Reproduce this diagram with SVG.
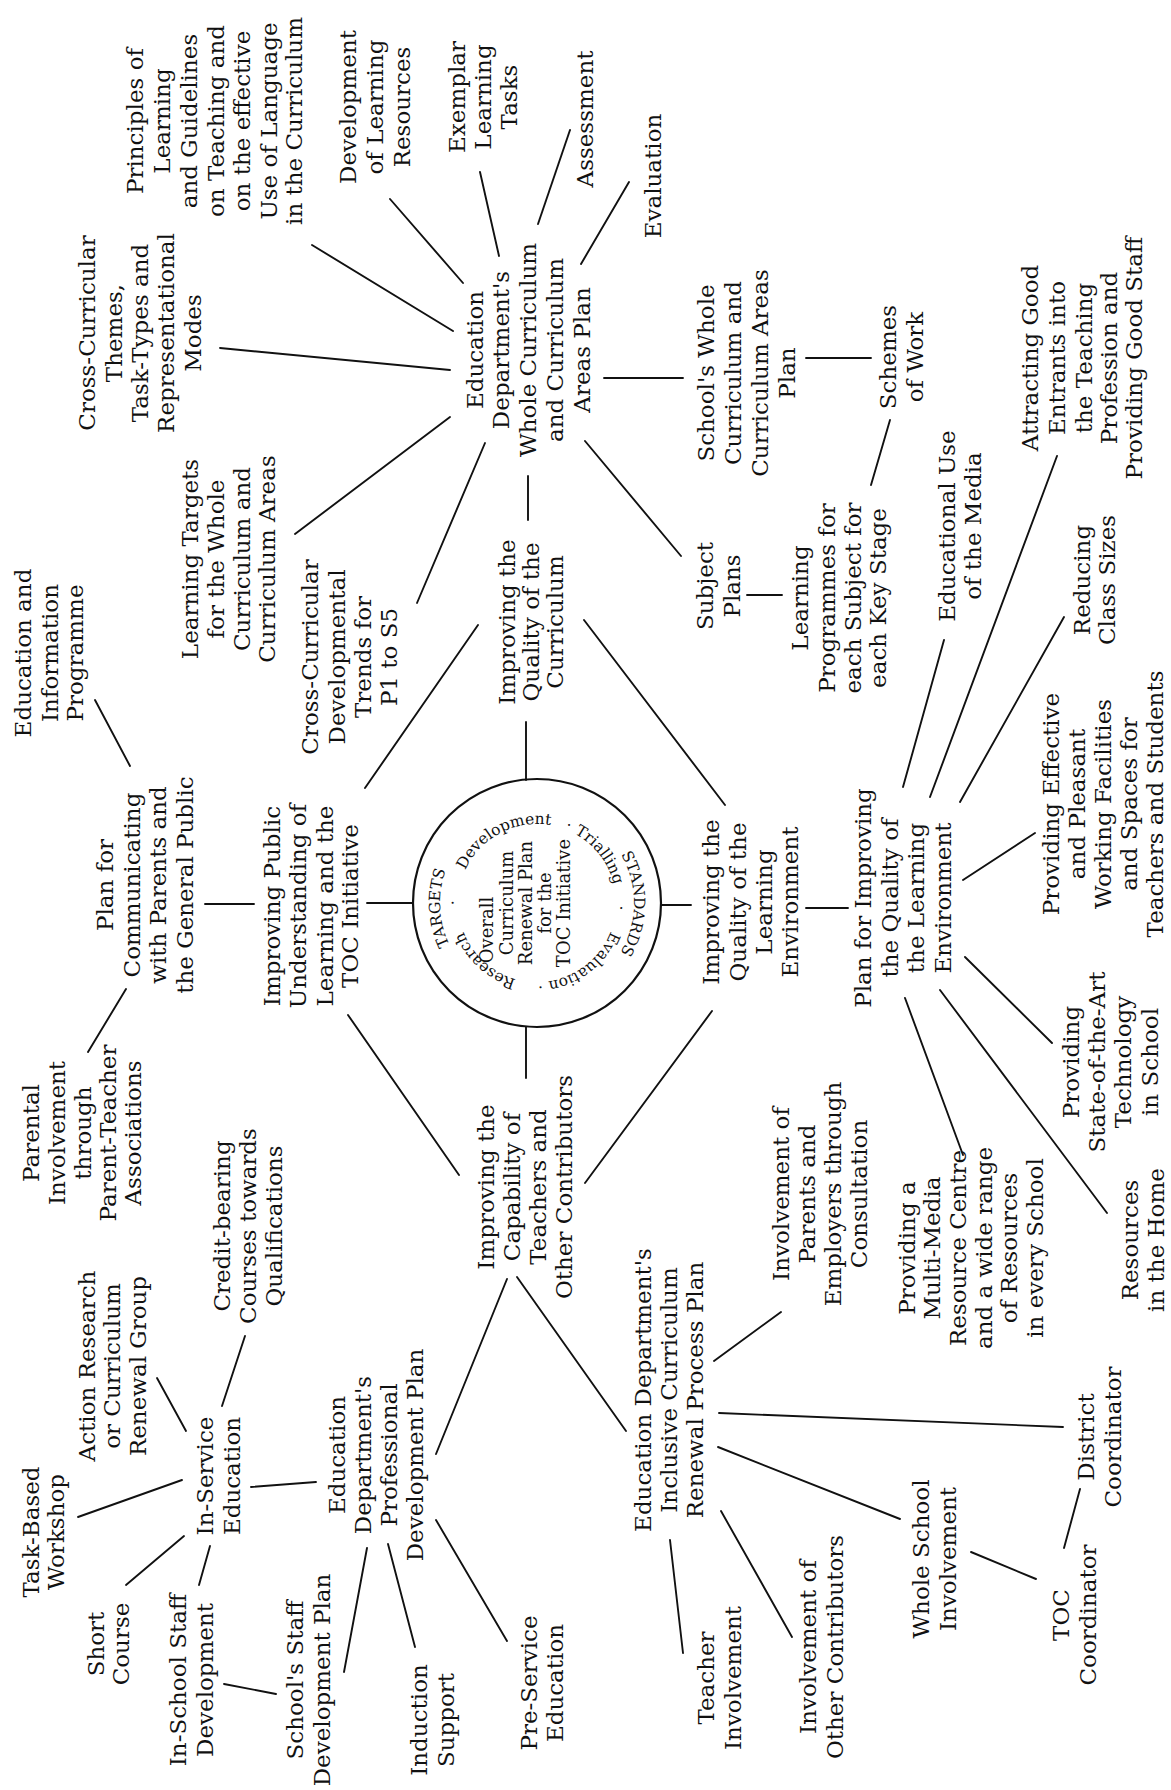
<svg xmlns="http://www.w3.org/2000/svg" width="1171" height="1790" viewBox="0 0 1171 1790">
<defs>
<style>
text { font-family: "DejaVu Serif", "Liberation Serif", serif; font-size: 23px; text-anchor: middle; fill: #111; }
.ring { font-size: 15.5px; }
.inner { font-size: 18px; }
#connectors line { stroke: #111; stroke-width: 1.9; stroke-linecap: round; }
.hub { fill: none; stroke: #111; stroke-width: 2.2; }
</style>
<path id="ringIn" d="M537,982 A79,79 0 0,1 537,824 A79,79 0 0,1 537,982"/>
<path id="ringOut" d="M537,1000 A97,97 0 0,1 537,806 A97,97 0 0,1 537,1000"/>
</defs>
<rect width="1171" height="1790" fill="#fff"/>

<g id="connectors">
<line x1="220" y1="348" x2="450" y2="370"/>
<line x1="312" y1="245" x2="453" y2="331"/>
<line x1="390" y1="199" x2="463" y2="283"/>
<line x1="480" y1="172" x2="499" y2="256"/>
<line x1="570" y1="130" x2="538" y2="224"/>
<line x1="629" y1="182" x2="581" y2="264"/>
<line x1="604" y1="378" x2="683" y2="378"/>
<line x1="806" y1="358" x2="871" y2="358"/>
<line x1="585" y1="441" x2="681" y2="556"/>
<line x1="747" y1="595" x2="782" y2="595"/>
<line x1="871" y1="485" x2="890" y2="420"/>
<line x1="528" y1="476" x2="528" y2="520"/>
<line x1="295" y1="534" x2="450" y2="417"/>
<line x1="417" y1="603" x2="485" y2="443"/>
<line x1="526" y1="722" x2="526" y2="780"/>
<line x1="365" y1="788" x2="478" y2="625"/>
<line x1="584" y1="620" x2="725" y2="805"/>
<line x1="712" y1="1011" x2="585" y2="1183"/>
<line x1="348" y1="1015" x2="459" y2="1175"/>
<line x1="367" y1="903" x2="413" y2="903"/>
<line x1="661" y1="905" x2="691" y2="905"/>
<line x1="526" y1="1027" x2="526" y2="1078"/>
<line x1="205" y1="904" x2="254" y2="904"/>
<line x1="95" y1="700" x2="130" y2="766"/>
<line x1="88" y1="1052" x2="126" y2="989"/>
<line x1="806" y1="908" x2="848" y2="908"/>
<line x1="903" y1="787" x2="944" y2="640"/>
<line x1="930" y1="797" x2="1057" y2="456"/>
<line x1="960" y1="802" x2="1064" y2="617"/>
<line x1="963" y1="880" x2="1035" y2="833"/>
<line x1="965" y1="957" x2="1052" y2="1043"/>
<line x1="940" y1="990" x2="1107" y2="1213"/>
<line x1="905" y1="998" x2="963" y2="1155"/>
<line x1="517" y1="1277" x2="626" y2="1431"/>
<line x1="714" y1="1361" x2="781" y2="1312"/>
<line x1="719" y1="1413" x2="1063" y2="1427"/>
<line x1="718" y1="1447" x2="900" y2="1519"/>
<line x1="721" y1="1511" x2="792" y2="1637"/>
<line x1="670" y1="1540" x2="683" y2="1653"/>
<line x1="971" y1="1552" x2="1036" y2="1579"/>
<line x1="1064" y1="1548" x2="1080" y2="1489"/>
<line x1="245" y1="1336" x2="222" y2="1406"/>
<line x1="157" y1="1378" x2="186" y2="1431"/>
<line x1="78" y1="1517" x2="182" y2="1480"/>
<line x1="126" y1="1585" x2="184" y2="1536"/>
<line x1="199" y1="1585" x2="210" y2="1546"/>
<line x1="224" y1="1684" x2="276" y2="1694"/>
<line x1="251" y1="1487" x2="316" y2="1482"/>
<line x1="367" y1="1548" x2="344" y2="1672"/>
<line x1="388" y1="1544" x2="415" y2="1647"/>
<line x1="436" y1="1520" x2="507" y2="1641"/>
<line x1="436" y1="1454" x2="507" y2="1279"/>
</g>

<g id="hub">
<circle class="hub" cx="537" cy="903" r="124"/>
<text class="ring"><textPath href="#ringIn" startOffset="57.9">Research</textPath></text>
<text class="ring"><textPath href="#ringIn" startOffset="124.1">·</textPath></text>
<text class="ring"><textPath href="#ringIn" startOffset="209.6">Development</textPath></text>
<text class="ring"><textPath href="#ringIn" startOffset="278.5">·</textPath></text>
<text class="ring"><textPath href="#ringIn" startOffset="319.9">Trialling</textPath></text>
<text class="ring"><textPath href="#ringIn" startOffset="376.4">·</textPath></text>
<text class="ring"><textPath href="#ringIn" startOffset="442.6">Evaluation</textPath></text>
<text class="ring"><textPath href="#ringIn" startOffset="492.3">·</textPath></text>
<text class="ring"><textPath href="#ringOut" startOffset="147.3">TARGETS</textPath></text>
<text class="ring"><textPath href="#ringOut" startOffset="457.1">STANDARDS</textPath></text>
<g transform="translate(0,903) rotate(-90)">
<text class="inner"><tspan x="-27" y="493">Overall</tspan><tspan x="0" y="513">Curriculum</tspan><tspan x="0" y="532">Renewal Plan</tspan><tspan x="0" y="551">for the</tspan><tspan x="0" y="570">TOC Initiative</tspan></text>
</g>
</g>

<g id="n-themes" transform="translate(0,333) rotate(-90)"><text><tspan x="0" y="95">Cross-Curricular</tspan><tspan x="0" y="122">Themes,</tspan><tspan x="0" y="148">Task-Types and</tspan><tspan x="0" y="174">Representational</tspan><tspan x="0" y="201">Modes</tspan></text></g>
<g id="n-principles" transform="translate(0,121) rotate(-90)"><text><tspan x="0" y="143">Principles of</tspan><tspan x="0" y="170">Learning</tspan><tspan x="0" y="197">and Guidelines</tspan><tspan x="0" y="224">on Teaching and</tspan><tspan x="0" y="250">on the effective</tspan><tspan x="0" y="277">Use of Language</tspan><tspan x="0" y="302">in the Curriculum</tspan></text></g>
<g id="n-devres" transform="translate(0,107) rotate(-90)"><text><tspan x="0" y="356">Development</tspan><tspan x="0" y="383">of Learning</tspan><tspan x="0" y="410">Resources</tspan></text></g>
<g id="n-exemplar" transform="translate(0,97) rotate(-90)"><text><tspan x="0" y="465">Exemplar</tspan><tspan x="0" y="491">Learning</tspan><tspan x="0" y="517">Tasks</tspan></text></g>
<g id="n-assessment" transform="translate(0,119) rotate(-90)"><text><tspan x="0" y="593">Assessment</tspan></text></g>
<g id="n-evaluation" transform="translate(0,176) rotate(-90)"><text><tspan x="0" y="661">Evaluation</tspan></text></g>
<g id="n-mainplan" transform="translate(0,350) rotate(-90)"><text><tspan x="0" y="483">Education</tspan><tspan x="0" y="509">Department's</tspan><tspan x="0" y="536">Whole Curriculum</tspan><tspan x="0" y="563">and Curriculum</tspan><tspan x="0" y="590">Areas Plan</tspan></text></g>
<g id="n-schoolplan" transform="translate(0,373) rotate(-90)"><text><tspan x="0" y="714">School's Whole</tspan><tspan x="0" y="741">Curriculum and</tspan><tspan x="0" y="768">Curriculum Areas</tspan><tspan x="0" y="795">Plan</tspan></text></g>
<g id="n-schemes" transform="translate(0,357) rotate(-90)"><text><tspan x="0" y="896">Schemes</tspan><tspan x="0" y="923">of Work</tspan></text></g>
<g id="n-attracting" transform="translate(0,358) rotate(-90)"><text><tspan x="0" y="1038">Attracting Good</tspan><tspan x="0" y="1065">Entrants into</tspan><tspan x="0" y="1092">the Teaching</tspan><tspan x="0" y="1117">Profession and</tspan><tspan x="0" y="1142">Providing Good Staff</tspan></text></g>
<g id="n-subject" transform="translate(0,586) rotate(-90)"><text><tspan x="0" y="713">Subject</tspan><tspan x="0" y="740">Plans</tspan></text></g>
<g id="n-programmes" transform="translate(0,598) rotate(-90)"><text><tspan x="0" y="808">Learning</tspan><tspan x="0" y="835">Programmes for</tspan><tspan x="0" y="861">each Subject for</tspan><tspan x="0" y="886">each Key Stage</tspan></text></g>
<g id="n-media" transform="translate(0,526) rotate(-90)"><text><tspan x="0" y="955">Educational Use</tspan><tspan x="0" y="981">of the Media</tspan></text></g>
<g id="n-classsizes" transform="translate(0,580) rotate(-90)"><text><tspan x="0" y="1090">Reducing</tspan><tspan x="0" y="1115">Class Sizes</tspan></text></g>
<g id="n-targets" transform="translate(0,559) rotate(-90)"><text><tspan x="0" y="198">Learning Targets</tspan><tspan x="0" y="224">for the Whole</tspan><tspan x="0" y="250">Curriculum and</tspan><tspan x="0" y="275">Curriculum Areas</tspan></text></g>
<g id="n-crossdev" transform="translate(0,657) rotate(-90)"><text><tspan x="0" y="318">Cross-Curricular</tspan><tspan x="0" y="345">Developmental</tspan><tspan x="0" y="371">Trends for</tspan><tspan x="0" y="397">P1 to S5</tspan></text></g>
<g id="n-qualcurr" transform="translate(0,622) rotate(-90)"><text><tspan x="0" y="515">Improving the</tspan><tspan x="0" y="539">Quality of the</tspan><tspan x="0" y="563">Curriculum</tspan></text></g>
<g id="n-eduinfo" transform="translate(0,653) rotate(-90)"><text><tspan x="0" y="31">Education and</tspan><tspan x="0" y="58">Information</tspan><tspan x="0" y="83">Programme</tspan></text></g>
<g id="n-commplan" transform="translate(0,885) rotate(-90)"><text><tspan x="0" y="113">Plan for</tspan><tspan x="0" y="140">Communicating</tspan><tspan x="0" y="166">with Parents and</tspan><tspan x="0" y="193">the General Public</tspan></text></g>
<g id="n-public" transform="translate(0,906) rotate(-90)"><text><tspan x="0" y="280">Improving Public</tspan><tspan x="0" y="306">Understanding of</tspan><tspan x="0" y="333">Learning and the</tspan><tspan x="0" y="358">TOC Initiative</tspan></text></g>
<g id="n-parental" transform="translate(0,1133) rotate(-90)"><text><tspan x="0" y="39">Parental</tspan><tspan x="0" y="65">Involvement</tspan><tspan x="0" y="91">through</tspan><tspan x="0" y="116">Parent-Teacher</tspan><tspan x="0" y="141">Associations</tspan></text></g>
<g id="n-credit" transform="translate(0,1226) rotate(-90)"><text><tspan x="0" y="230">Credit-bearing</tspan><tspan x="0" y="256">Courses towards</tspan><tspan x="0" y="282">Qualifications</tspan></text></g>
<g id="n-capability" transform="translate(0,1187) rotate(-90)"><text><tspan x="0" y="494">Improving the</tspan><tspan x="0" y="520">Capability of</tspan><tspan x="0" y="546">Teachers and</tspan><tspan x="0" y="572">Other Contributors</tspan></text></g>
<g id="n-learnenv" transform="translate(0,902) rotate(-90)"><text><tspan x="0" y="719">Improving the</tspan><tspan x="0" y="746">Quality of the</tspan><tspan x="0" y="772">Learning</tspan><tspan x="0" y="798">Environment</tspan></text></g>
<g id="n-envplan" transform="translate(0,898) rotate(-90)"><text><tspan x="0" y="871">Plan for Improving</tspan><tspan x="0" y="898">the Quality of</tspan><tspan x="0" y="924">the Learning</tspan><tspan x="0" y="951">Environment</tspan></text></g>
<g id="n-facilities" transform="translate(0,804) rotate(-90)"><text><tspan x="0" y="1059">Providing Effective</tspan><tspan x="0" y="1085">and Pleasant</tspan><tspan x="0" y="1111">Working Facilities</tspan><tspan x="0" y="1137">and Spaces for</tspan><tspan x="0" y="1163">Teachers and Students</tspan></text></g>
<g id="n-technology" transform="translate(0,1062) rotate(-90)"><text><tspan x="0" y="1079">Providing</tspan><tspan x="0" y="1105">State-of-the-Art</tspan><tspan x="0" y="1131">Technology</tspan><tspan x="0" y="1158">in School</tspan></text></g>
<g id="n-home" transform="translate(0,1240) rotate(-90)"><text><tspan x="0" y="1138">Resources</tspan><tspan x="0" y="1164">in the Home</tspan></text></g>
<g id="n-multimedia" transform="translate(0,1248) rotate(-90)"><text><tspan x="0" y="915">Providing a</tspan><tspan x="0" y="940">Multi-Media</tspan><tspan x="0" y="966">Resource Centre</tspan><tspan x="0" y="992">and a wide range</tspan><tspan x="0" y="1017">of Resources</tspan><tspan x="0" y="1043">in every School</tspan></text></g>
<g id="n-consult" transform="translate(0,1194) rotate(-90)"><text><tspan x="0" y="789">Involvement of</tspan><tspan x="0" y="815">Parents and</tspan><tspan x="0" y="841">Employers through</tspan><tspan x="0" y="867">Consultation</tspan></text></g>
<g id="n-renewal" transform="translate(0,1390) rotate(-90)"><text><tspan x="0" y="651">Education Department's</tspan><tspan x="0" y="677">Inclusive Curriculum</tspan><tspan x="0" y="703">Renewal Process Plan</tspan></text></g>
<g id="n-teacher" transform="translate(0,1678) rotate(-90)"><text><tspan x="0" y="714">Teacher</tspan><tspan x="0" y="741">Involvement</tspan></text></g>
<g id="n-others" transform="translate(0,1647) rotate(-90)"><text><tspan x="0" y="816">Involvement of</tspan><tspan x="0" y="843">Other Contributors</tspan></text></g>
<g id="n-wholeschool" transform="translate(0,1559) rotate(-90)"><text><tspan x="0" y="929">Whole School</tspan><tspan x="0" y="956">Involvement</tspan></text></g>
<g id="n-toc" transform="translate(0,1615) rotate(-90)"><text><tspan x="0" y="1069">TOC</tspan><tspan x="0" y="1096">Coordinator</tspan></text></g>
<g id="n-district" transform="translate(0,1437) rotate(-90)"><text><tspan x="0" y="1094">District</tspan><tspan x="0" y="1121">Coordinator</tspan></text></g>
<g id="n-taskbased" transform="translate(0,1532) rotate(-90)"><text><tspan x="0" y="39">Task-Based</tspan><tspan x="0" y="64">Workshop</tspan></text></g>
<g id="n-action" transform="translate(0,1366) rotate(-90)"><text><tspan x="0" y="95">Action Research</tspan><tspan x="0" y="120">or Curriculum</tspan><tspan x="0" y="146">Renewal Group</tspan></text></g>
<g id="n-inservice" transform="translate(0,1476) rotate(-90)"><text><tspan x="0" y="213">In-Service</tspan><tspan x="0" y="240">Education</tspan></text></g>
<g id="n-profplan" transform="translate(0,1455) rotate(-90)"><text><tspan x="0" y="345">Education</tspan><tspan x="0" y="371">Department's</tspan><tspan x="0" y="397">Professional</tspan><tspan x="0" y="423">Development Plan</tspan></text></g>
<g id="n-short" transform="translate(0,1644) rotate(-90)"><text><tspan x="0" y="104">Short</tspan><tspan x="0" y="129">Course</tspan></text></g>
<g id="n-inschool" transform="translate(0,1680) rotate(-90)"><text><tspan x="0" y="186">In-School Staff</tspan><tspan x="0" y="213">Development</tspan></text></g>
<g id="n-staffplan" transform="translate(0,1680) rotate(-90)"><text><tspan x="0" y="303">School's Staff</tspan><tspan x="0" y="330">Development Plan</tspan></text></g>
<g id="n-induction" transform="translate(0,1720) rotate(-90)"><text><tspan x="0" y="427">Induction</tspan><tspan x="0" y="454">Support</tspan></text></g>
<g id="n-preservice" transform="translate(0,1683) rotate(-90)"><text><tspan x="0" y="537">Pre-Service</tspan><tspan x="0" y="563">Education</tspan></text></g>
</svg>
